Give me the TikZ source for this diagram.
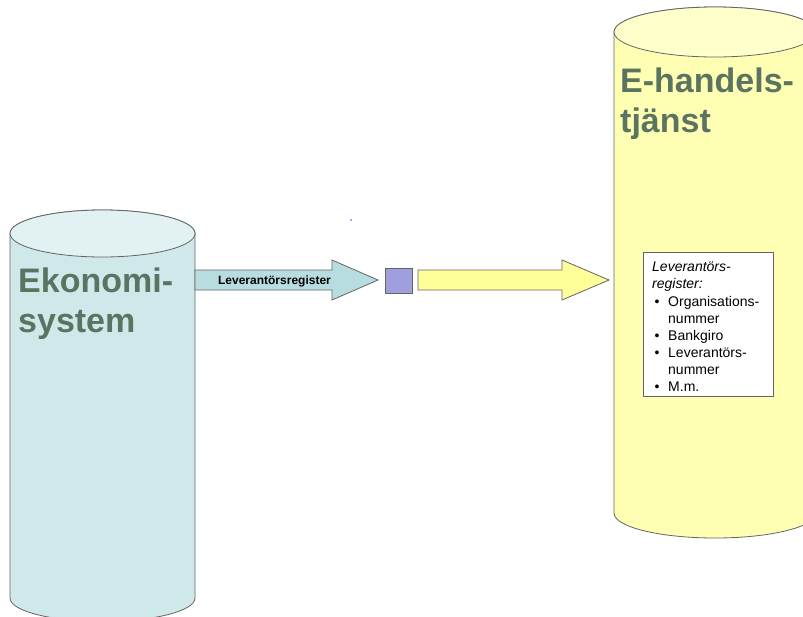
\documentclass[tikz,border=0pt]{standalone}
\usepackage{fontspec}
\setmainfont{Liberation Sans}
\usetikzlibrary{positioning}
\definecolor{ekobody}{RGB}{207,232,234}
\definecolor{ekotop}{RGB}{226,242,242}
\definecolor{handelbody}{RGB}{255,255,180}
\definecolor{handeltop}{RGB}{255,255,204}
\definecolor{feedfill}{RGB}{184,221,225}
\definecolor{sendfill}{RGB}{255,255,153}
\definecolor{squarefill}{RGB}{160,159,221}
\definecolor{titlegreen}{RGB}{91,116,97}
\definecolor{edgegray}{RGB}{100,100,100}
\tikzset {
  shape edge/.style = {
    draw = edgegray,
    line width = 0.8pt
  },
  % database drum
  drum/.style = {
    shape edge
  },
  % big block arrow
  block arrow/.style = {
    shape edge,
    line join = miter
  },
  % system name
  title/.style = {
    anchor = north west,
    align = left,
    inner sep = 0,
    text = titlegreen,
    font = \fontsize{34}{40}\selectfont\bfseries
  },
  regline/.style = {
    anchor = north west,
    align = left,
    inner sep = 0,
    font = \fontsize{14}{17.15}\selectfont
  }
}
\newcommand{\regbullet}{\makebox[16pt][l]{\hspace{2.5pt}\textbullet}}

\begin{document}
\begin{tikzpicture}[x=1pt, y=1pt]
    \clip (0,0) rectangle (803,-616);
    \fill[white] (0,0) rectangle (803,-616);

    % Ekonomisystem
    \draw[drum, fill=ekobody] (10,-233.5) -- (10,-598)
      arc[start angle=180, end angle=360, x radius=92.5, y radius=23.5]
      -- (195,-233.5)
      arc[start angle=0, end angle=180, x radius=92.5, y radius=23.5] -- cycle;
    \draw[drum, fill=ekotop] (102.5,-233.5) ellipse[x radius=92.5, y radius=23.5];
    \node[title] (eko) at (18,-267.5) {Ekonomi-\\system};

    % E-handelstjanst
    \draw[drum, fill=handelbody] (614,-32) -- (614,-513)
      arc[start angle=180, end angle=360, x radius=101, y radius=25]
      -- (816,-32)
      arc[start angle=0, end angle=180, x radius=101, y radius=25] -- cycle;
    \draw[drum, fill=handeltop] (715,-32) ellipse[x radius=101, y radius=25];
    \node[title] (handel) at (620,-67.5) {E-handels-\\tjänst};

    % arrows
    \draw[block arrow, fill=feedfill] (195,-270) -- (332,-270) -- (332,-260)
      -- (378,-280) -- (332,-300) -- (332,-290) -- (195,-290) -- cycle;
    \node[font=\fontsize{12}{14}\selectfont\bfseries, inner sep=0, anchor=base]
      (feed) at (274.5,-284) {Leverantörsregister};
    \node[shape edge, fill=squarefill, minimum width=27, minimum height=25,
      inner sep=0, anchor=north west] (pkg) at (384.5,-268) {};
    \draw[block arrow, fill=sendfill] (418,-270) -- (562,-270) -- (562,-260)
      -- (609,-280) -- (562,-300) -- (562,-290) -- (418,-290) -- cycle;
    \fill[blue!70] (351,-220) circle (0.8);

    % register contents
    \node[draw=edgegray, fill=white, line width=0.8pt, anchor=north west,
      minimum width=130, minimum height=144, inner sep=0] (regbox) at (643,-252) {};
    \node[regline] (reglist) at (652,-262) {\textit{Leverantörs-}\\
      \textit{register:}\\
      \regbullet Organisations-\\
      \hspace*{16pt}nummer\\
      \regbullet Bankgiro\\
      \regbullet Leverantörs-\\
      \hspace*{16pt}nummer\\
      \regbullet M.m.};
\end{tikzpicture}
\end{document}
